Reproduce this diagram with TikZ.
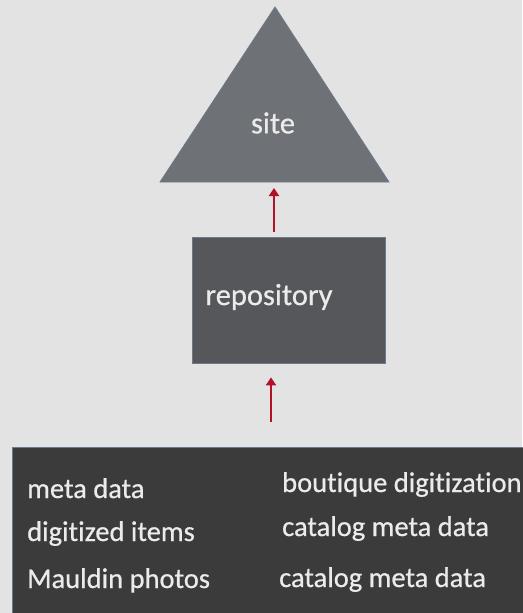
\documentclass[tikz,border=0pt]{standalone}
\usepackage{fontspec}
\setmainfont{Carlito}[Ligatures=NoCommon]
\newfontfamily\lblfont{Carlito}[Ligatures=NoCommon, FakeBold=0.6]
\usetikzlibrary{arrows.meta}
\definecolor{bgc}{HTML}{E3E3E3}
\definecolor{tric}{HTML}{6E7176}
\definecolor{repoc}{HTML}{55575A}
\definecolor{srcc}{HTML}{3B3B3C}
\definecolor{edgec}{HTML}{6A7A8A}
\definecolor{txtc}{HTML}{EBEBEB}
\definecolor{arrc}{HTML}{B3102A}
\tikzset{
  lbl/.style={text=txtc, inner sep=0pt, font=\lblfont\fontsize{28.5}{32}\selectfont},
  biglbl/.style={text=txtc, inner sep=0pt, font=\lblfont\fontsize{30.5}{34}\selectfont},
  arr/.style={draw=arrc, line width=2.5pt, -{Triangle[length=8pt,width=10pt]}},
  box/.style={rectangle, inner sep=0pt, draw=edgec, line width=0.8pt}
}
\begin{document}
\begin{tikzpicture}[x=1pt,y=-1pt]
\useasboundingbox (0,0) rectangle (522,613);
\fill[bgc] (0,0) rectangle (522,613);
% triangle
\coordinate (apex) at (275,7);
\coordinate (bl) at (160,182);
\coordinate (br) at (389,182);
\coordinate (sitebase) at (274,182);
\fill[tric, draw=edgec, line width=0.8pt] (apex) -- (br) -- (bl) -- cycle;
\node[biglbl] (site) at (273,123) {site};
% repository
\node[box, fill=repoc, minimum width=193pt, minimum height=126pt] (repo) at (288.5,300) {};
\node[biglbl] (repotxt) at (269,297) {repository};
% bottom box
\node[box, fill=srcc, minimum width=512pt, minimum height=168pt] (src) at (268,531) {};
\coordinate (in2) at (271,0);
% arrows
\draw[arr, shorten <=5pt, shorten >=6pt] (repo.north -| sitebase) -- (sitebase);
\draw[arr, shorten <=25pt, shorten >=14pt] (src.north -| in2) -- (repo.south -| in2);
% texts
\node[lbl, anchor=base west] (t1) at (27,498) {meta data};
\node[lbl, anchor=base west] (t2) at (27,541) {digitized items};
\node[lbl, anchor=base west] (t3) at (27,588) {Mauldin photos};
\node[lbl, anchor=base west] (t4) at (282,492) {boutique digitization};
\node[lbl, anchor=base west] (t5) at (282,536) {catalog meta data};
\node[lbl, anchor=base west] (t6) at (279,587) {catalog meta data};
\end{tikzpicture}
\end{document}
